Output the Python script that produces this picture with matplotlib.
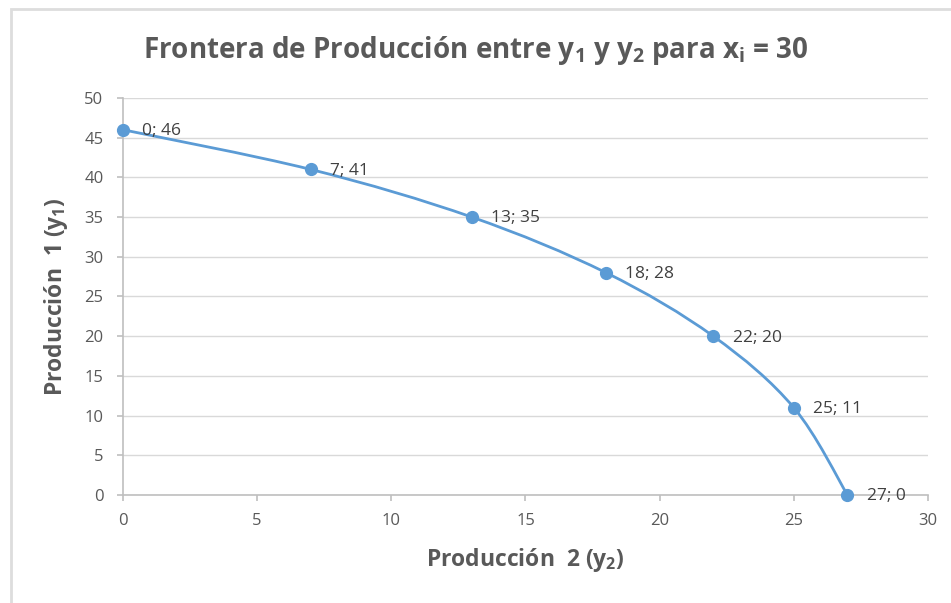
import matplotlib
matplotlib.use('Agg')
import matplotlib.pyplot as plt
from matplotlib.path import Path
from matplotlib.patches import PathPatch, Rectangle
import numpy as np

# data
prod2 = [0, 7, 13, 18, 22, 25, 27]
prod1 = [46, 41, 35, 28, 20, 11, 0]
x_ticks = [0, 5, 10, 15, 20, 25, 30]
y_ticks = [0, 5, 10, 15, 20, 25, 30, 35, 40, 45, 50]

plt.rcParams['font.family'] = ['Open Sans', 'DejaVu Sans']
plt.rcParams['mathtext.default'] = 'regular'

blue = '#5B9BD5'
gray_txt = '#595959'

fig = plt.figure(figsize=(9.51, 6.03), dpi=100)
ax = fig.add_axes([0.1293, 0.1791, 0.8465, 0.6584])

# smoothed line like Excel (catmull-rom as bezier segments)
pts = np.column_stack([prod2, prod1]).astype(float)
verts = [tuple(pts[0])]
codes = [Path.MOVETO]
n = len(pts)
for i in range(n - 1):
    p0 = pts[i - 1] if i > 0 else pts[i]
    p1 = pts[i]
    p2 = pts[i + 1]
    p3 = pts[i + 2] if i + 2 < n else pts[i + 1]
    c1 = p1 + (p2 - p0) / 6.0
    c2 = p2 - (p3 - p1) / 6.0
    verts += [tuple(c1), tuple(c2), tuple(p2)]
    codes += [Path.CURVE4] * 3
ax.add_patch(PathPatch(Path(verts, codes), facecolor='none', edgecolor=blue,
                       lw=2.0, zorder=3, clip_on=False))
ax.plot(prod2, prod1, 'o', color=blue, ms=8.5, zorder=4, clip_on=False)

for x, y in zip(prod2, prod1):
    ax.annotate('{}; {}'.format(x, y), (x, y), xytext=(14, -1), textcoords='offset points',
                ha='left', va='center', fontsize=12.5, color='#404040', zorder=5)

ax.set_xlim(0, 30)
ax.set_ylim(0, 50)
ax.set_xticks(x_ticks)
ax.set_yticks(y_ticks)
ax.grid(axis='y', color='#D9D9D9', lw=1)
ax.set_axisbelow(True)
for s in ['top', 'right']:
    ax.spines[s].set_visible(False)
for s in ['left', 'bottom']:
    ax.spines[s].set_color('#BFBFBF')
    ax.spines[s].set_linewidth(1.2)
ax.tick_params(colors='#BFBFBF', labelcolor=gray_txt, labelsize=12, length=4, width=1.2)
ax.tick_params(axis='x', pad=9)
ax.tick_params(axis='y', pad=10)

ax.set_xlabel('Producción  2 (y$_2$)', fontsize=16.5, fontweight='bold', color=gray_txt, labelpad=12)
ax.set_ylabel('Producción  1 (y$_1$)', fontsize=16.5, fontweight='bold', color=gray_txt, labelpad=10)
fig.text(0.5, 0.917, 'Frontera de Producción entre y$_1$ y y$_2$ para x$_i$ = 30',
         ha='center', va='center', fontsize=20, fontweight='bold', color=gray_txt)

fig.patches.append(Rectangle((0.012, -0.02), 1.0, 1.005, transform=fig.transFigure,
                             fill=False, edgecolor='#DDDDDD', lw=2))

plt.savefig('out.png')
